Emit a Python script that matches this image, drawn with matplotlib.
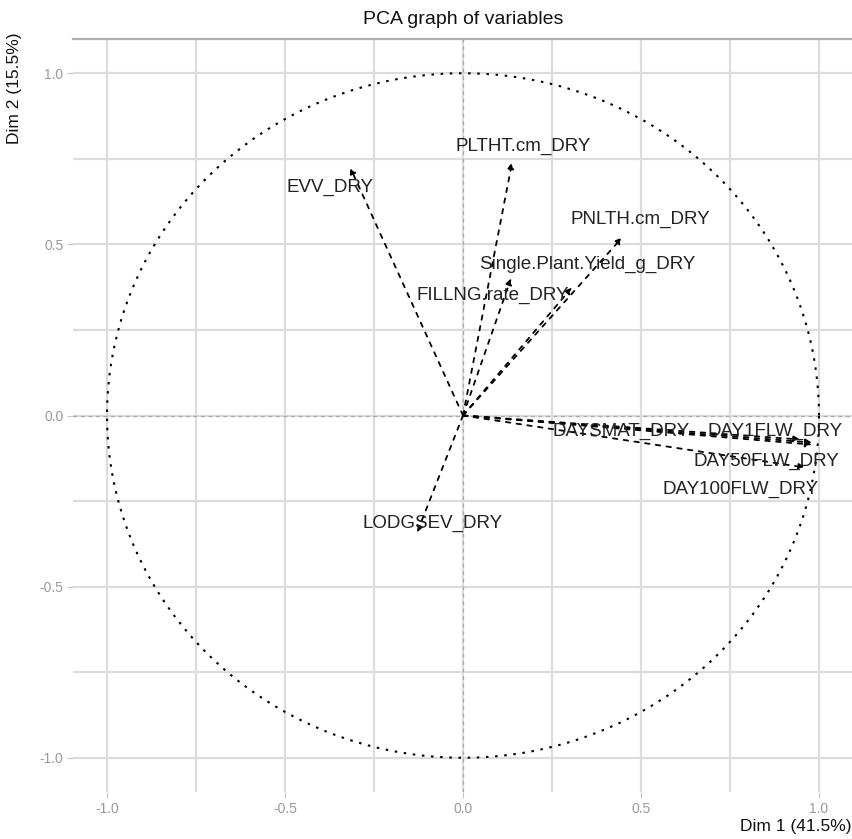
import numpy as np
import matplotlib
matplotlib.use('Agg')
from matplotlib import pyplot as plt

# variable coordinates on the first two dimensions
variables = ['EVV_DRY', 'PLTHT.cm_DRY', 'PNLTH.cm_DRY', 'Single.Plant.Yield_g_DRY',
             'FILLNG.rate_DRY', 'LODGSEV_DRY', 'DAYSMAT_DRY', 'DAY1FLW_DRY',
             'DAY50FLW_DRY', 'DAY100FLW_DRY']
dim1 = [-0.317, 0.138, 0.447, 0.306, 0.135, -0.129, 0.947, 0.980, 0.980, 0.961]
dim2 = [0.725, 0.740, 0.520, 0.374, 0.401, -0.342, -0.070, -0.079, -0.085, -0.152]

# where each label sits relative to its arrow tip (pixels, right / up)
label_dx = [-20, 11, 18, 15, -18, 15, -179, -37, -46, -65]
label_dy = [-20, 16, 18, 23, -17, 9, 8, 11, -17, -22]

ticks = [-1.0, -0.5, 0.0, 0.5, 1.0]
tick_labels = ['-1.0', '-0.5', '0.0', '0.5', '1.0']
minor_ticks = [-0.75, -0.25, 0.25, 0.75]

plt.rcParams['font.family'] = ['Liberation Sans', 'DejaVu Sans']

W, H = 853, 839
fig = plt.figure(figsize=(W / 100, H / 100), dpi=100)
ax = fig.add_axes([73 / W, 47 / H, 780 / W, 753 / H])
ax.set_xlim(-1.0955, 1.0955)
ax.set_ylim(-1.1, 1.1)

# grid
grid_col = '#dcdcdc'
for v in ticks + minor_ticks:
    ax.axvline(v, color=grid_col, lw=1.6, zorder=0)
    ax.axhline(v, color=grid_col, lw=1.6, zorder=0)
ax.axvline(0, color='#a8a8a8', lw=0.9, ls=(0, (3, 3)), zorder=1)
ax.axhline(0, color='#a8a8a8', lw=0.9, ls=(0, (3, 3)), zorder=1)

# correlation circle
t = np.linspace(0, 2 * np.pi, 400)
ax.plot(np.cos(t), np.sin(t), color='black', lw=1.5, ls=(0, (1.2, 3.2)), zorder=2)

for name, x, y, dx, dy in zip(variables, dim1, dim2, label_dx, label_dy):
    ax.annotate('', xy=(x, y), xytext=(0, 0),
                arrowprops=dict(arrowstyle='-|>', color='black', lw=1.3,
                                ls=(0, (2.5, 3.5)), shrinkA=0, shrinkB=0,
                                mutation_scale=9), zorder=3)
    ax.annotate(name, xy=(x, y), xytext=(dx, dy), textcoords='offset pixels',
                ha='center', va='center', fontsize=13.5, color='#222222', zorder=4)

ax.set_xticks(ticks)
ax.set_xticklabels(tick_labels)
ax.set_yticks(ticks)
ax.set_yticklabels(tick_labels)
ax.tick_params(length=4, width=0.8, color='#c4c4c4', labelcolor='#9a9a9a',
               labelsize=10, pad=3)

for side in ['left', 'right', 'bottom']:
    ax.spines[side].set_visible(False)
ax.spines['top'].set_color('#b0b0b0')
ax.spines['top'].set_linewidth(1.6)

fig.text(463 / W, 1 - 20 / H, 'PCA graph of variables', ha='center', va='center',
         fontsize=14, color='#111111')
fig.text(852 / W, 1 - 827 / H, 'Dim 1 (41.5%)', ha='right', va='center',
         fontsize=12.5, color='#111111')
fig.text(15 / W, 1 - 33 / H, 'Dim 2 (15.5%)', ha='center', va='top', rotation=90,
         fontsize=12.5, color='#111111')

plt.savefig('out.png', dpi=100)
